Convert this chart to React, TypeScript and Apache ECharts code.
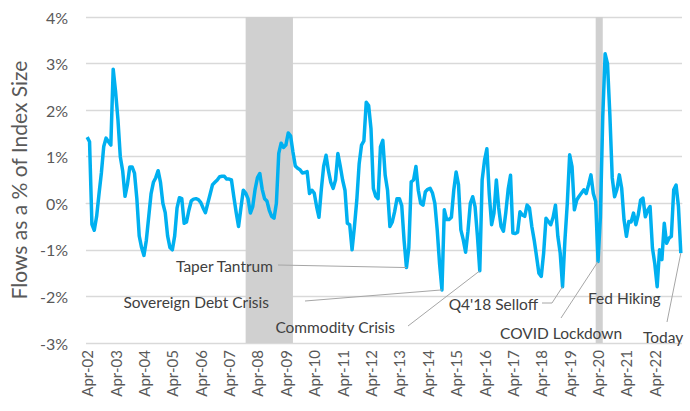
import React, { useEffect, useRef } from "react";
import * as echarts from "echarts";

const MONTHS = ["Jan", "Feb", "Mar", "Apr", "May", "Jun", "Jul", "Aug", "Sep", "Oct", "Nov", "Dec"];
const START_YEAR = 2002;
const START_MONTH = 3; // April

const flows: number[] = [
  1.42, 1.32, -0.45, -0.58, -0.28, 0.2, 0.65, 1.22, 1.4, 1.32, 1.25, 2.88,
  2.4, 1.8, 1.0, 0.7, 0.15, 0.4, 0.78, 0.78, 0.65, 0.1, -0.7, -0.95,
  -1.12, -0.8, -0.3, 0.2, 0.45, 0.55, 0.7, 0.45, 0.0, -0.2, -0.7, -0.95,
  -1.0, -0.7, -0.1, 0.12, 0.1, -0.43, -0.4, -0.15, 0.05, 0.09, 0.1, 0.08,
  0.02, -0.1, -0.2, 0.0, 0.2, 0.4, 0.45, 0.5, 0.57, 0.58, 0.58, 0.52,
  0.52, 0.5, 0.14, -0.2, -0.5, -0.1, 0.28, 0.22, 0.1, -0.21, -0.07, 0.3,
  0.55, 0.64, 0.3, 0.1, 0.05, -0.15, -0.28, -0.32, 0.0, 1.07, 1.29, 1.2,
  1.25, 1.51, 1.45, 1.1, 0.8, 0.75, 0.72, 0.65, 0.66, 0.68, 0.21, 0.28,
  0.22, -0.07, -0.3, 0.3, 0.8, 1.03, 0.7, 0.45, 0.32, 0.5, 1.07, 0.8,
  0.5, 0.28, -0.43, -0.46, -1.0, -0.5, 0.07, 0.85, 1.25, 1.34, 2.17, 2.1,
  1.6, 0.32, 0.15, 0.1, 1.21, 1.35, 0.6, 0.28, -0.5, -0.4, -0.18, 0.1,
  0.1, -0.05, -0.8, -1.38, -0.95, 0.46, 0.5, 0.79, 0.28, 0.0, -0.04, 0.25,
  0.3, 0.32, 0.22, 0.0, -0.57, -1.3, -1.86, -0.14, -0.35, -0.35, -0.3, 0.28,
  0.67, 0.4, -0.57, -0.78, -1.05, -0.6, 0.0, 0.14, -0.07, -0.7, -1.45, 0.5,
  0.92, 1.17, 0.2, -0.46, -0.21, 0.5, -0.1, -0.5, -0.6, -0.2, 0.3, 0.6,
  -0.64, -0.65, -0.62, -0.18, -0.25, -0.28, -0.04, -0.1, -0.5, -0.79, -1.14, -1.5,
  -1.57, -1.07, -0.32, -0.39, -0.46, -0.3, -0.04, -0.71, -1.07, -1.79, -0.79, 0.0,
  1.04, 0.79, -0.14, 0.07, 0.15, 0.22, 0.29, 0.21, 0.4, 0.61, 0.21, 0.04,
  -1.25, -0.29, 1.86, 3.21, 3.0, 1.9, 0.55, 0.14, 0.3, 0.61, 0.32, -0.36,
  -0.71, -0.39, -0.4, -0.21, -0.46, -0.25, 0.07, 0.11, -0.29, -0.15, -0.07, -0.96,
  -1.3, -1.79, -1.0, -1.21, -0.43, -0.86, -0.75, -0.71, 0.29, 0.39, -0.07, -1.07,
];

const categories: string[] = flows.map((_, i) => {
  const m = START_MONTH + i;
  const yr = START_YEAR + Math.floor(m / 12);
  return `${MONTHS[m % 12]}-${String(yr % 100).padStart(2, "0")}`;
});

// Recession shading (category labels)
const recessions: [string, string][] = [
  ["Nov-07", "Jul-09"],
  ["Mar-20", "Jun-20"],
];

// Annotations: label, target category, text anchor/placement, leader line start
const annotations = [
  { text: "Taper Tantrum", target: "Jul-13", tx: 273, ty: 266, align: "right", from: [[278, 265]] },
  { text: "Sovereign Debt Crisis", target: "Oct-14", tx: 269, ty: 302, align: "right", from: [[305, 301]] },
  { text: "Commodity Crisis", target: "Feb-16", tx: 395, ty: 327, align: "right", from: [[408, 326]] },
  { text: "Q4'18 Selloff", target: "Jan-19", tx: 538, ty: 304, align: "right", from: [[542, 303], [552, 303]] },
  { text: "COVID Lockdown", target: "Apr-20", tx: 500, ty: 333, align: "left", from: [[561, 318]] },
  { text: "Fed Hiking", target: null as string | null, tx: 588, ty: 298, align: "left", from: [] as number[][] },
  { text: "Today", target: "Mar-23", tx: 643, ty: 337, align: "left", from: [[667, 322]] },
];

const yTicks = { min: -3, max: 4, interval: 1 };

const FONT = "Lato, 'Open Sans', sans-serif";

export default function App() {
  const ref = useRef<HTMLDivElement>(null);
  useEffect(() => {
    if (!ref.current) return;
    const chart = echarts.init(ref.current, undefined, { renderer: "svg" });
    chart.setOption({
      animation: false,
      backgroundColor: "#ffffff",
      grid: { left: 86, right: 8, top: 17, bottom: 68, containLabel: false },
      xAxis: {
        type: "category",
        data: categories,
        boundaryGap: true,
        axisLine: { show: true, lineStyle: { color: "#d9d9d9", width: 1 } },
        axisTick: { show: false },
        splitLine: { show: false },
        axisLabel: {
          interval: 11,
          rotate: 90,
          margin: 7,
          color: "#595959",
          fontSize: 15,
          fontFamily: FONT,
        },
      },
      yAxis: {
        type: "value",
        min: yTicks.min,
        max: yTicks.max,
        interval: yTicks.interval,
        name: "Flows as a % of Index Size",
        nameLocation: "middle",
        nameGap: 53,
        nameTextStyle: { color: "#595959", fontSize: 21, fontFamily: FONT },
        axisLine: { show: false },
        axisTick: { show: false },
        splitLine: { lineStyle: { color: "#d9d9d9", width: 1.3 } },
        axisLabel: {
          formatter: "{value}%",
          color: "#595959",
          fontSize: 16,
          margin: 18,
          fontFamily: FONT,
        },
      },
      series: [
        {
          type: "line",
          data: flows,
          showSymbol: false,
          symbol: "none",
          lineStyle: { color: "#00B0F0", width: 3.5, join: "round" },
          z: 5,
          markArea: {
            silent: true,
            itemStyle: { color: "#d0d0d0" },
            data: recessions.map(([a, b]) => [{ xAxis: a }, { xAxis: b }]),
          },
        },
      ],
    });

    const graphics: any[] = [];
    annotations.forEach((a) => {
      graphics.push({
        type: "text",
        x: a.tx,
        y: a.ty,
        style: {
          text: a.text,
          fill: "#404040",
          fontSize: 15.5,
          fontFamily: FONT,
          textAlign: a.align,
          textVerticalAlign: "middle",
        },
        z: 10,
      });
      if (a.target) {
        const idx = categories.indexOf(a.target);
        const pt = chart.convertToPixel({ seriesIndex: 0 }, [idx, flows[idx]]) as number[];
        const pts = [...a.from, pt];
        graphics.push({
          type: "polyline",
          shape: { points: pts },
          style: { stroke: "#a6a6a6", lineWidth: 1, fill: "none" },
          z: 9,
        });
      }
    });
    chart.setOption({ graphic: graphics });

    return () => chart.dispose();
  }, []);
  return (
    <div style={{ position: "absolute", left: 0, top: 0 }}>
      <div ref={ref} style={{ width: 690, height: 411 }} />
    </div>
  );
}
